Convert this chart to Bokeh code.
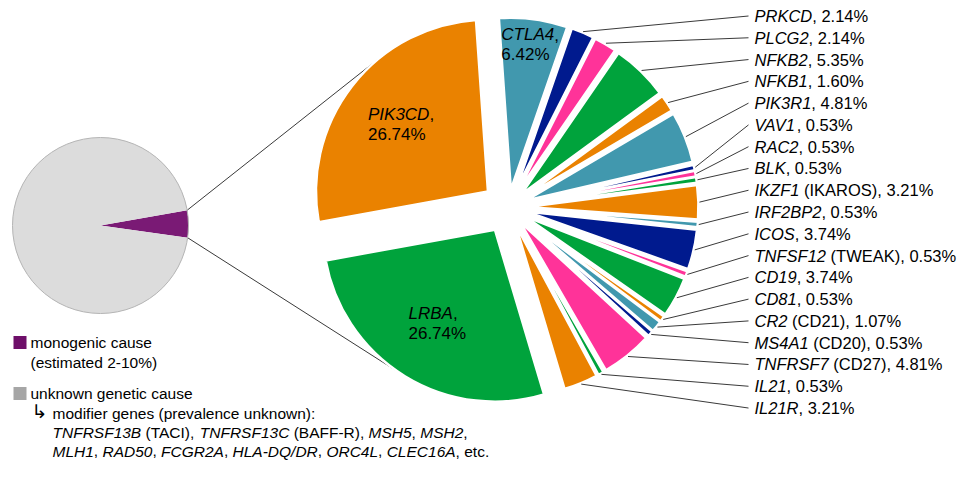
import math
from bokeh.plotting import figure
from bokeh.models import ColumnDataSource, Range1d
from bokeh.core.properties import value
from bokeh.embed import file_html
from bokeh.resources import INLINE

# ---------------- data ----------------
overview_labels = ["monogenic cause", "unknown genetic cause"]
overview_values = [5.0, 95.0]
overview_colors = ["#7a1a75", "#dcdcdc"]

genes = ["CTLA4", "PRKCD", "PLCG2", "NFKB2", "NFKB1", "PIK3R1", "VAV1", "RAC2", "BLK",
         "IKZF1", "IRF2BP2", "ICOS", "TNFSF12", "CD19", "CD81", "CR2", "MS4A1",
         "TNFRSF7", "IL21", "IL21R", "LRBA", "PIK3CD"]
gene_notes = ["", "", "", "", "", "", "", "", "", " (IKAROS)", "", "", " (TWEAK)", "", "",
              " (CD21)", " (CD20)", " (CD27)", "", "", "", ""]
gene_pct = [6.42, 2.14, 2.14, 5.35, 1.60, 4.81, 0.53, 0.53, 0.53, 3.21, 0.53, 3.74, 0.53,
            3.74, 0.53, 1.07, 0.53, 4.81, 0.53, 3.21, 26.74, 26.74]
TEAL, NAVY, PINK, GREEN, ORANGE = "#4198ae", "#001a8e", "#ff3399", "#00a33c", "#ea8200"
gene_colors = [TEAL, NAVY, PINK, GREEN, ORANGE, TEAL, NAVY, PINK, GREEN, ORANGE,
               TEAL, NAVY, PINK, GREEN, ORANGE, TEAL, NAVY, PINK, GREEN, ORANGE,
               GREEN, ORANGE]
inside_labelled = ["CTLA4", "LRBA", "PIK3CD"]
big_slices = ["LRBA", "PIK3CD"]

legend_line1 = [("monogenic cause", False)]
legend_line2 = [("(estimated 2-10%)", False)]
legend_line3 = [("unknown genetic cause", False)]
legend_line4 = [("modifier genes (prevalence unknown):", False)]
legend_line5 = [("TNFRSF13B", True), (" (TACI), ", False), ("TNFRSF13C", True),
                (" (BAFF-R), ", False), ("MSH5", True), (", ", False), ("MSH2", True), (",", False)]
legend_line6 = [("MLH1", True), (", ", False), ("RAD50", True), (", ", False), ("FCGR2A", True),
                (", ", False), ("HLA-DQ/DR", True), (", ", False), ("ORC4L", True), (", ", False),
                ("CLEC16A", True), (", etc.", False)]

# ---------------- layout (reference pixel space) ----------------
HREF = 477
FIG_W, FIG_H = 959, 461
FONT = "Liberation Sans"
def Y(py):
    return HREF - py

CX, CY = 508, 207          # big pie centre
R = 172                    # big pie radius
EXP_SMALL, EXP_BIG = 18, 26
START_CW = -4.0            # first slice starts 4 deg before 12 o'clock
SX, SY, SR = 100, 225, 88  # small pie
SMALL_MID = 1.0            # monogenic slice centre angle (math deg)

W = {' ': 278, ',': 278, '.': 278, '%': 889, '(': 333, ')': 333, '-': 333, '/': 278, ':': 278,
     'A': 667, 'B': 667, 'C': 722, 'D': 722, 'E': 667, 'F': 611, 'G': 778, 'H': 722, 'I': 278,
     'J': 500, 'K': 667, 'L': 556, 'M': 833, 'N': 722, 'O': 778, 'P': 667, 'Q': 778, 'R': 722,
     'S': 667, 'T': 611, 'U': 722, 'V': 667, 'W': 944, 'X': 667, 'Y': 667, 'Z': 611,
     'a': 556, 'b': 556, 'c': 500, 'd': 556, 'e': 556, 'f': 278, 'g': 556, 'h': 556, 'i': 222,
     'j': 222, 'k': 500, 'l': 222, 'm': 833, 'n': 556, 'o': 556, 'p': 556, 'q': 556, 'r': 333,
     's': 500, 't': 278, 'u': 556, 'v': 500, 'w': 722, 'x': 500, 'y': 500, 'z': 500}
def tw(s, size):
    return sum(W.get(ch, 556) for ch in s) * size / 1000.0

runs = {True: dict(x=[], y=[], text=[], size=[]), False: dict(x=[], y=[], text=[], size=[])}
def add_run(x, py, segments, size):
    for txt, ital in segments:
        lead = len(txt) - len(txt.lstrip(" "))
        x += tw(txt[:lead], size)
        body = txt.strip(" ")
        if body:
            d = runs[ital]
            d["x"].append(x); d["y"].append(Y(py)); d["text"].append(body)
            d["size"].append("%gpx" % size)
        x += tw(txt[lead:], size)

p = figure(width=FIG_W, height=FIG_H, x_range=Range1d(0, FIG_W), y_range=Range1d(HREF - FIG_H, HREF),
           output_backend="svg", toolbar_location=None, min_border=0)
p.axis.visible = False
p.grid.visible = False
p.outline_line_color = None
p.background_fill_color = "white"

# ---------------- big pie geometry ----------------
total = sum(gene_pct)
cum = 0.0
slices = dict(x=[], y=[], start=[], end=[], color=[])
apex = {}
mids = {}
for g, v, c in zip(genes, gene_pct, gene_colors):
    a = START_CW + 360.0 * cum / total
    b = START_CW + 360.0 * (cum + v) / total
    cum += v
    mid = 0.5 * (a + b)
    e = EXP_BIG if g in big_slices else EXP_SMALL
    m = math.radians(90 - mid)
    ax_, ay_ = CX + e * math.cos(m), Y(CY) + e * math.sin(m)
    apex[g] = (ax_, ay_)
    mids[g] = (mid, e)
    slices["x"].append(ax_); slices["y"].append(ay_)
    slices["start"].append(math.radians(90 - b)); slices["end"].append(math.radians(90 - a))
    slices["color"].append(c)

# ---------------- small pie ----------------
mono_span = 360.0 * overview_values[0] / sum(overview_values)
m0, m1 = SMALL_MID - mono_span / 2, SMALL_MID + mono_span / 2
small = dict(x=[SX, SX], y=[Y(SY), Y(SY)],
             start=[math.radians(m0), math.radians(m1)],
             end=[math.radians(m1), math.radians(m0 + 360)],
             color=overview_colors)

def tangent(P, A, r, upper):
    dx, dy = P[0] - A[0], P[1] - A[1]
    d = math.hypot(dx, dy)
    phi = math.atan2(dy, dx)
    beta = math.acos(r / d)
    t1 = (A[0] + r * math.cos(phi + beta), A[1] + r * math.sin(phi + beta))
    t2 = (A[0] + r * math.cos(phi - beta), A[1] + r * math.sin(phi - beta))
    return max(t1, t2, key=lambda t: t[1]) if upper else min(t1, t2, key=lambda t: t[1])

P_top = (SX + SR * math.cos(math.radians(m1)), Y(SY) + SR * math.sin(math.radians(m1)))
P_bot = (SX + SR * math.cos(math.radians(m0)), Y(SY) + SR * math.sin(math.radians(m0)))
T_top = tangent(P_top, apex["PIK3CD"], R, True)
T_bot = tangent(P_bot, apex["LRBA"], R, False)
p.multi_line(xs=[[P_top[0], T_top[0]], [P_bot[0], T_bot[0]]],
             ys=[[P_top[1], T_top[1]], [P_bot[1], T_bot[1]]],
             line_color="#3a3a3a", line_width=1)

p.wedge(x="x", y="y", radius=SR, start_angle="start", end_angle="end", fill_color="color",
        line_color=None, source=ColumnDataSource(small))
p.scatter(x=[SX], y=[Y(SY)], size=2 * SR, marker="circle", fill_color=None,
          line_color="#b4b4b4", line_width=1)

p.wedge(x="x", y="y", radius=R, start_angle="start", end_angle="end", fill_color="color",
        line_color="white", line_width=2.5, source=ColumnDataSource(slices))

# ---------------- external labels + leaders ----------------
LBL_SIZE = 16.5
IN_SIZE = 17
LEAD_END_X, TEXT_X, LBL_Y0, LBL_DY = 748, 754, 15.5, 21.78
lx, ly = [], []
k = 0
for g, v, note in zip(genes, gene_pct, gene_notes):
    if g in inside_labelled:
        continue
    mid, e = mids[g]
    m = math.radians(90 - mid)
    sx_ = CX + (e + R + 1) * math.cos(m)
    sy_ = Y(CY) + (e + R + 1) * math.sin(m)
    py = LBL_Y0 + k * LBL_DY
    lx.append([sx_, LEAD_END_X]); ly.append([sy_, Y(py)])
    add_run(TEXT_X, py, [(g, True), ("%s, %.2f%%" % (note, v), False)], LBL_SIZE)
    k += 1
p.multi_line(xs=lx, ys=ly, line_color="#3a3a3a", line_width=1)

# ---------------- inside labels ----------------
frac = {"CTLA4": 0.85, "LRBA": 0.64, "PIK3CD": 0.64}
for g in inside_labelled:
    v = gene_pct[genes.index(g)]
    mid, e = mids[g]
    m = math.radians(90 - mid)
    axp = apex[g][0] + frac[g] * R * math.cos(m)
    ayp = apex[g][1] + frac[g] * R * math.sin(m)
    l1 = [(g, True), (",", False)]
    l2 = [("%.2f%%" % v, False)]
    wmax = max(tw(g + ",", IN_SIZE), tw("%.2f%%" % v, IN_SIZE))
    x0 = axp - wmax / 2
    pyc = HREF - ayp
    add_run(x0, pyc - 10, l1, IN_SIZE)
    add_run(x0, pyc + 10, l2, IN_SIZE)

# ---------------- legend ----------------
LEG = 15.5
LEG_Y = [342, 361.5, 393, 412.5, 432, 450.5]
p.scatter(x=[19.5, 19.5], y=[Y(LEG_Y[0]), Y(LEG_Y[2])], marker="square", size=13,
          fill_color=["#6e0f69", "#a6a6a6"], line_color=None)
add_run(30, LEG_Y[0], legend_line1, LEG)
add_run(30, LEG_Y[1], legend_line2, LEG)
add_run(30, LEG_Y[2], legend_line3, LEG)
add_run(52, LEG_Y[3], legend_line4, LEG)
add_run(52, LEG_Y[4], legend_line5, LEG)
add_run(52, LEG_Y[5], legend_line6, LEG)
p.text(x=[31], y=[Y(LEG_Y[3] - 2.5)], text=["↳"], text_font=value("DejaVu Sans"), text_font_size="19px",
       text_baseline="middle", text_align="left", text_color="black")

for ital in (False, True):
    p.text(x="x", y="y", text="text", text_font_size="size", text_font=value(FONT),
           text_font_style="italic" if ital else "normal", text_baseline="middle",
           text_align="left", text_color="black", source=ColumnDataSource(runs[ital]))

open("out.html", "w").write(file_html(p, INLINE))
